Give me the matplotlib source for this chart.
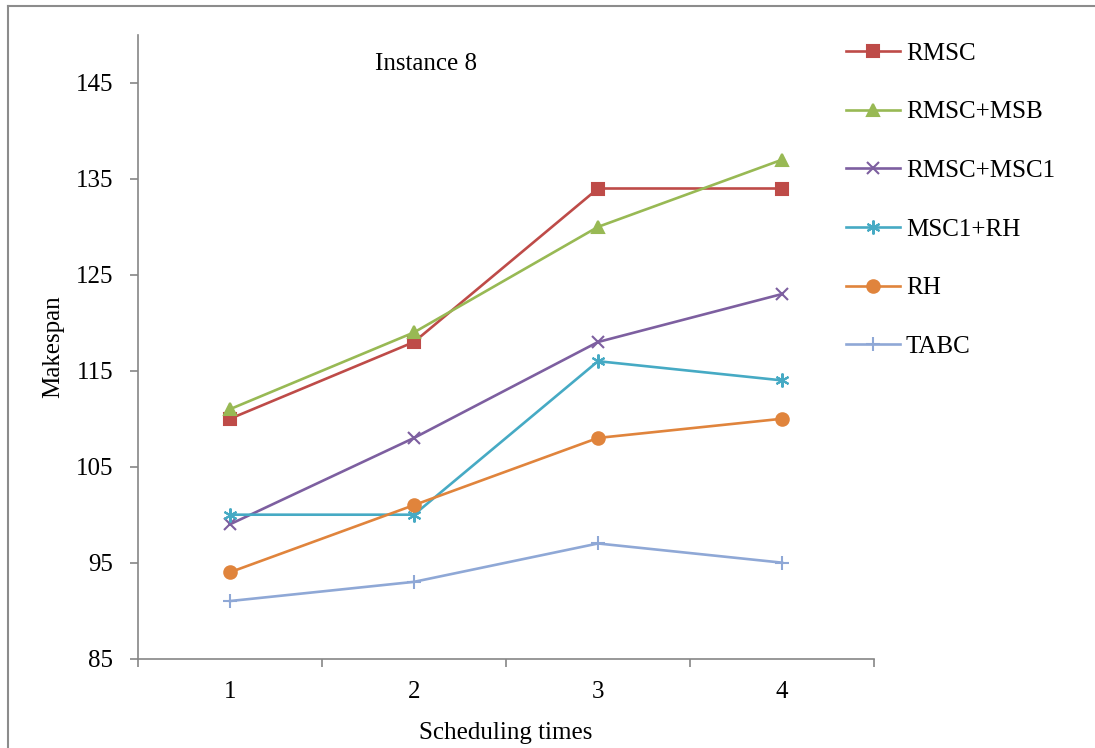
import matplotlib.pyplot as plt
from matplotlib.lines import Line2D

plt.rcParams['font.family'] = ['Liberation Serif', 'DejaVu Serif']

times = [1, 2, 3, 4]
rmsc = [110, 118, 134, 134]
rmsc_msb = [111, 119, 130, 137]
rmsc_msc1 = [99, 108, 118, 123]
msc1_rh = [100, 100, 116, 114]
rh = [94, 101, 108, 110]
tabc = [91, 93, 97, 95]

series = [
    ('RMSC', rmsc, '#BE4B48', 's', 8),
    ('RMSC+MSB', rmsc_msb, '#98B954', '^', 9),
    ('RMSC+MSC1', rmsc_msc1, '#7D5FA0', 'x', 8),
    ('MSC1+RH', msc1_rh, '#46AAC4', (6, 2, 0), 10),
    ('RH', rh, '#E0843C', 'o', 9),
    ('TABC', tabc, '#8FA8D6', '+', 10),
]

FS = 18

fig = plt.figure(figsize=(10.95, 7.48), dpi=100)
ax = fig.add_axes([138 / 1095, 1 - 658.6 / 748, 736 / 1095, (658.6 - 35) / 748])

for name, vals, col, mk, ms in series:
    ax.plot(times, vals, color=col, lw=1.9, marker=mk, markersize=ms,
            markeredgewidth=1.5, markerfacecolor=col, markeredgecolor=col, label=name)

ax.set_xlim(0.5, 4.5)
ax.set_ylim(85, 150)
ax.set_yticks([85, 95, 105, 115, 125, 135, 145])
ax.set_xticks(times)
ax.set_xticks([0.5, 1.5, 2.5, 3.5, 4.5], minor=True)
ax.tick_params(axis='x', which='major', length=0, labelsize=FS, pad=16)
ax.tick_params(axis='x', which='minor', length=6, width=1.2, color='#868686')
ax.tick_params(axis='y', length=6, width=1.2, color='#868686', labelsize=FS, pad=12)

for s in ['top', 'right']:
    ax.spines[s].set_visible(False)
for s in ['left', 'bottom']:
    ax.spines[s].set_color('#868686')
    ax.spines[s].set_linewidth(1.2)

ax.set_ylabel('Makespan', fontsize=FS, labelpad=8)
ax.set_xlabel('Scheduling times', fontsize=FS, labelpad=14)
ax.text(0.391, 147.0, 'Instance 8', transform=ax.get_yaxis_transform(),
        ha='center', va='center', fontsize=FS)

fig.legend(loc='upper left', bbox_to_anchor=(846 / 1095, 1 - 42 / 748),
           frameon=False, fontsize=FS, labelspacing=1.45, handlelength=2.15,
           handletextpad=0.25, borderaxespad=0, borderpad=0)

# outer frame around the chart area
fig.add_artist(Line2D([8 / 1095, 1], [1 - 6 / 748, 1 - 6 / 748], color='#8c8c8c', lw=1.5))
fig.add_artist(Line2D([8 / 1095, 8 / 1095], [0, 1 - 6 / 748], color='#8c8c8c', lw=1.5))

fig.savefig('out.png', dpi=100)
